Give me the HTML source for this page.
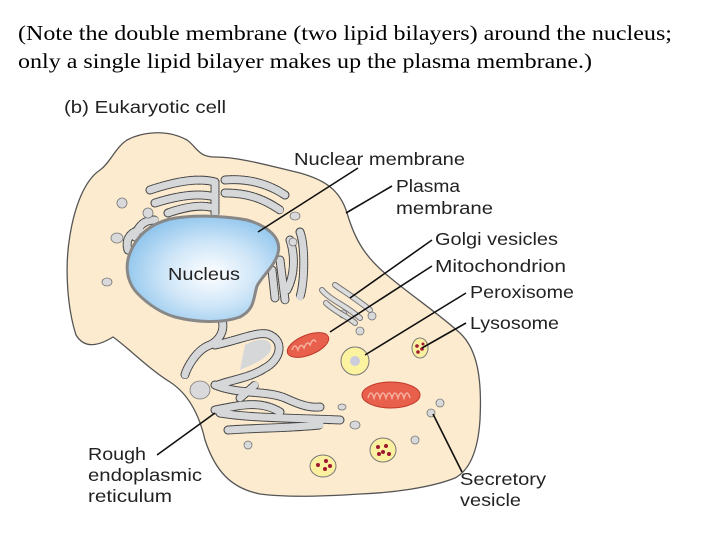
<!DOCTYPE html>
<html><head><meta charset="utf-8"><style>
html,body{margin:0;padding:0;background:#fff;width:720px;height:540px;overflow:hidden}
svg{display:block}
.t{font-family:"Liberation Serif",serif;font-size:21px;fill:#000}
.l{font-family:"Liberation Sans",sans-serif;font-size:17.5px;fill:#222}
.er{fill:none;stroke:#d6d7d9;stroke-width:7;stroke-linecap:round;stroke-linejoin:round}
.erb{fill:none;stroke:#444;stroke-width:9;stroke-linecap:round;stroke-linejoin:round;stroke-dasharray:1 2}
.v{fill:#d9d9db;stroke:#777;stroke-width:0.8}
.ln{stroke:#111;stroke-width:1.6;fill:none}
</style></head><body>
<svg width="720" height="540" viewBox="0 0 720 540">
<defs>
<radialGradient id="ng" cx="0.55" cy="0.55" r="0.6">
<stop offset="0" stop-color="#ffffff"/><stop offset="0.5" stop-color="#cfe6f8"/><stop offset="1" stop-color="#8cc3ec"/>
</radialGradient>
</defs>
<text class="t" x="18" y="40" textLength="654" lengthAdjust="spacingAndGlyphs">(Note the double membrane (two lipid bilayers) around the nucleus;</text>
<text class="t" x="18" y="68" textLength="574" lengthAdjust="spacingAndGlyphs">only a single lipid bilayer makes up the plasma membrane.)</text>
<text class="l" x="64" y="113" textLength="162" lengthAdjust="spacingAndGlyphs">(b)  Eukaryotic cell</text>

<!-- cell -->
<path d="M127,140 C140,133 165,128 187,140 C197,147 198,157 215,157 C240,157 270,166 300,173 C325,180 340,190 347,213 C355,240 365,258 393,280 C415,298 440,315 460,333 C478,350 482,380 480,420 C478,450 470,470 455,478 C430,488 390,493 360,494 C330,496 290,498 260,494 C230,488 215,470 205,440 C200,418 190,395 170,382 C150,370 125,345 113,337 C100,345 85,350 76,335 C68,310 64,270 70,235 C75,205 85,180 100,170 C110,163 115,148 127,140 Z" fill="#fcebcf" stroke="#555" stroke-width="1.3"/>

<!-- ER around nucleus -->
<g>
<path class="erb" d="M150,190 C180,180 200,178 215,182 M155,203 C180,195 200,193 215,197 M215,182 L215,215 M225,180 C250,178 270,185 285,195 M225,193 C250,193 265,200 280,210 M168,213 C185,207 200,205 210,207 M135,237 C138,225 145,220 155,220 M128,250 C125,240 130,232 140,230 M300,232 C305,245 305,280 300,297 M290,240 C295,255 295,275 287,290 M280,260 L285,300 M272,270 L275,298"/>
<path class="er" d="M150,190 C180,180 200,178 215,182 M155,203 C180,195 200,193 215,197 M215,182 L215,215 M225,180 C250,178 270,185 285,195 M225,193 C250,193 265,200 280,210 M168,213 C185,207 200,205 210,207 M135,237 C138,225 145,220 155,220 M128,250 C125,240 130,232 140,230 M300,232 C305,245 305,280 300,297 M290,240 C295,255 295,275 287,290 M280,260 L285,300 M272,270 L275,298"/>
<!-- lower ER -->
<path class="erb" d="M222,320 C225,330 220,340 210,345 C195,350 185,372 185,375 M215,345 C240,340 260,330 270,335 C285,342 280,360 265,368 C250,378 230,380 218,385 M215,385 C240,395 265,390 285,398 C300,405 310,408 320,407 M215,410 C240,405 260,400 280,412 M220,413 C250,418 290,418 340,420 M228,430 C255,428 290,428 320,425 M240,398 L255,385"/>
<path class="er" d="M222,320 C225,330 220,340 210,345 C195,350 185,372 185,375 M215,345 C240,340 260,330 270,335 C285,342 280,360 265,368 C250,378 230,380 218,385 M215,385 C240,395 265,390 285,398 C300,405 310,408 320,407 M215,410 C240,405 260,400 280,412 M220,413 C250,418 290,418 340,420 M228,430 C255,428 290,428 320,425 M240,398 L255,385"/>
<path d="M245,345 C262,335 275,340 270,352 C262,362 250,365 240,370 Z" fill="#d6d7d9"/>
</g>

<!-- nucleus -->
<path d="M130,253 C137,235 150,224 170,219 C190,215 220,215 247,220 C268,226 282,238 278,253 C275,266 262,276 257,286 C253,299 255,309 240,317 C220,324 195,322 175,317 C158,312 146,302 138,294 C128,284 124,268 130,253 Z" fill="url(#ng)" stroke="#888" stroke-width="3"/>
<text class="l" x="168" y="280" textLength="72" lengthAdjust="spacingAndGlyphs">Nucleus</text>

<!-- vesicles -->
<ellipse class="v" cx="122" cy="203" rx="5" ry="5"/>
<ellipse class="v" cx="148" cy="213" rx="5" ry="5"/>
<ellipse class="v" cx="117" cy="238" rx="6" ry="5"/>
<ellipse class="v" cx="107" cy="282" rx="5" ry="4"/>
<ellipse class="v" cx="295" cy="216" rx="5" ry="4"/>
<ellipse class="v" cx="293" cy="242" rx="4" ry="4"/>
<ellipse class="v" cx="200" cy="390" rx="10" ry="9"/>
<ellipse class="v" cx="343" cy="314" rx="4" ry="4"/>
<ellipse class="v" cx="372" cy="316" rx="4" ry="4"/>
<ellipse class="v" cx="360" cy="331" rx="4" ry="4"/>
<ellipse class="v" cx="342" cy="407" rx="4" ry="3"/>
<ellipse class="v" cx="355" cy="425" rx="5" ry="4"/>
<ellipse class="v" cx="248" cy="445" rx="4" ry="4"/>
<ellipse class="v" cx="415" cy="440" rx="4" ry="4"/>
<ellipse class="v" cx="440" cy="403" rx="4" ry="4"/>
<ellipse class="v" cx="431" cy="413" rx="4" ry="4"/>
<!-- golgi -->
<g fill="none" stroke="#777" stroke-width="6" stroke-linecap="round">
<path d="M322,290 C330,300 345,305 360,318"/><path d="M326,303 C335,312 350,318 355,323"/><path d="M335,285 C345,292 358,300 370,310"/>
</g>
<g fill="none" stroke="#ddd" stroke-width="4" stroke-linecap="round">
<path d="M322,290 C330,300 345,305 360,318"/><path d="M326,303 C335,312 350,318 355,323"/><path d="M335,285 C345,292 358,300 370,310"/>
</g>
<!-- mitochondria -->
<ellipse cx="308" cy="345" rx="22" ry="10" transform="rotate(-22 308 345)" fill="#e8604c" stroke="#c0392b"/>
<path d="M292,350 q3,-8 6,0 q3,-8 6,-2 q3,-8 6,-3 q3,-8 6,-3" fill="none" stroke="#f5b0a0" stroke-width="1.5"/>
<ellipse cx="391" cy="395" rx="29" ry="13" fill="#e8604c" stroke="#c0392b"/>
<path d="M368,398 q3,-10 6,0 q3,-10 6,0 q3,-10 6,0 q3,-10 6,0 q3,-10 6,0 q3,-10 6,0 q3,-10 6,0" fill="none" stroke="#f5b0a0" stroke-width="1.5"/>
<!-- peroxisome -->
<circle cx="355" cy="361" r="14" fill="#fbf3a0" stroke="#777"/>
<circle cx="355" cy="361" r="5" fill="#ccd"/>
<!-- lysosomes -->
<ellipse cx="420" cy="348" rx="8" ry="10" fill="#fbf0a0" stroke="#777"/>
<circle cx="417" cy="346" r="1.8" fill="#a01830"/><circle cx="422" cy="349" r="1.8" fill="#a01830"/><circle cx="418" cy="352" r="1.8" fill="#a01830"/><circle cx="423" cy="344" r="1.5" fill="#a01830"/>
<ellipse cx="383" cy="450" rx="13" ry="12" fill="#fbf0a0" stroke="#777"/>
<circle cx="378" cy="447" r="2" fill="#a01830"/><circle cx="386" cy="446" r="2" fill="#a01830"/><circle cx="383" cy="452" r="2" fill="#a01830"/><circle cx="389" cy="454" r="2" fill="#a01830"/><circle cx="379" cy="454" r="2" fill="#a01830"/>
<ellipse cx="323" cy="466" rx="13" ry="11" fill="#fbf0a0" stroke="#777"/>
<circle cx="318" cy="465" r="2" fill="#a01830"/><circle cx="326" cy="461" r="2" fill="#a01830"/><circle cx="325" cy="469" r="2" fill="#a01830"/><circle cx="330" cy="466" r="2" fill="#a01830"/>

<!-- leader lines -->
<path class="ln" d="M358,168 L258,232"/>
<path class="ln" d="M392,186 L346,213"/>
<path class="ln" d="M432,240 L350,298"/>
<path class="ln" d="M432,266 L330,332"/>
<path class="ln" d="M466,293 L365,355"/>
<path class="ln" d="M466,323 L422,348"/>
<path class="ln" d="M157,455 L215,413"/>
<path class="ln" d="M462,472 L433,414"/>

<!-- labels -->
<text class="l" x="294" y="165" textLength="171" lengthAdjust="spacingAndGlyphs">Nuclear membrane</text>
<text class="l" x="396" y="192" textLength="64" lengthAdjust="spacingAndGlyphs">Plasma</text>
<text class="l" x="396" y="214" textLength="97" lengthAdjust="spacingAndGlyphs">membrane</text>
<text class="l" x="435" y="245" textLength="123" lengthAdjust="spacingAndGlyphs">Golgi vesicles</text>
<text class="l" x="435" y="272" textLength="131" lengthAdjust="spacingAndGlyphs">Mitochondrion</text>
<text class="l" x="470" y="298" textLength="104" lengthAdjust="spacingAndGlyphs">Peroxisome</text>
<text class="l" x="470" y="329" textLength="89" lengthAdjust="spacingAndGlyphs">Lysosome</text>
<text class="l" x="88" y="460" textLength="58" lengthAdjust="spacingAndGlyphs">Rough</text>
<text class="l" x="88" y="481" textLength="114" lengthAdjust="spacingAndGlyphs">endoplasmic</text>
<text class="l" x="88" y="502" textLength="84" lengthAdjust="spacingAndGlyphs">reticulum</text>
<text class="l" x="460" y="485" textLength="86" lengthAdjust="spacingAndGlyphs">Secretory</text>
<text class="l" x="460" y="506" textLength="61" lengthAdjust="spacingAndGlyphs">vesicle</text>
</svg>
</body></html>
